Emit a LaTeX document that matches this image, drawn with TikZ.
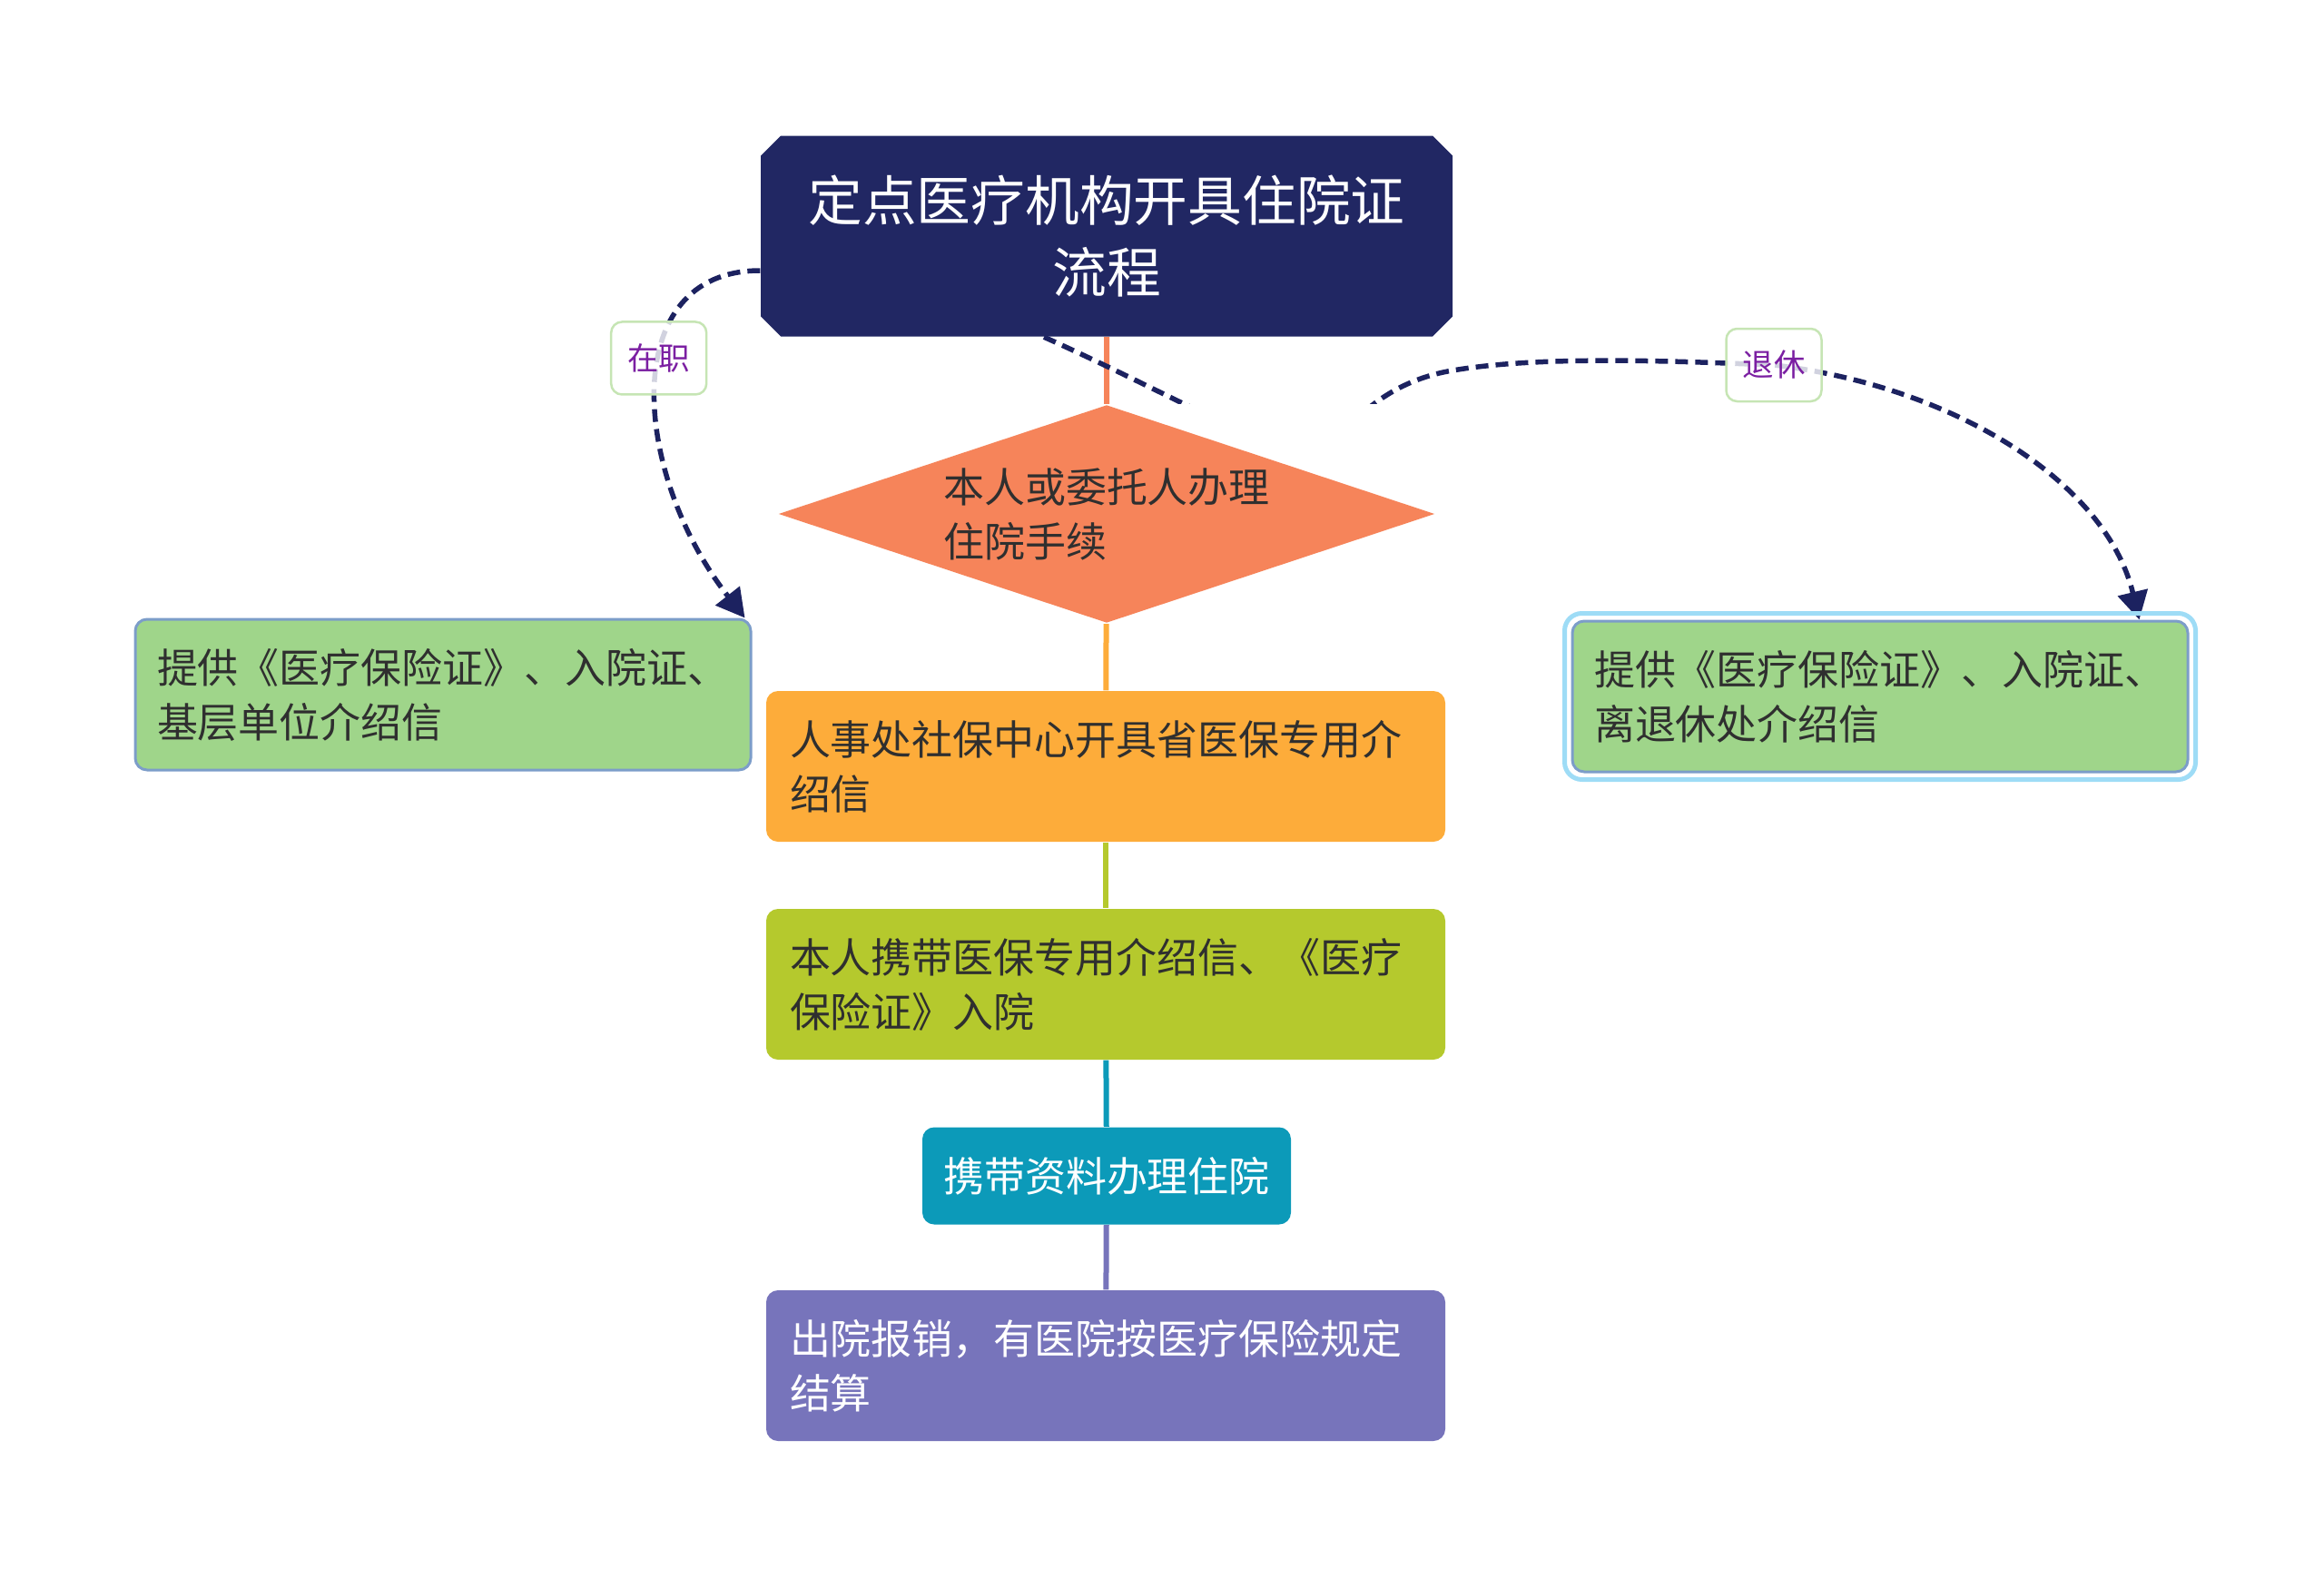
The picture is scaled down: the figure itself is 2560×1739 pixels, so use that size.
\documentclass[tikz,border=0pt]{standalone}
\usepackage{fontspec}
\setmainfont{Noto Sans CJK SC}
\usetikzlibrary{positioning,arrows.meta,calc,shapes.geometric,shapes.misc}

\definecolor{navy}{HTML}{212763}
\definecolor{coral}{HTML}{F6845A}
\definecolor{amber}{HTML}{FDAC3A}
\definecolor{lime}{HTML}{B5C92D}
\definecolor{teal}{HTML}{0C9AB9}
\definecolor{lilac}{HTML}{7774BB}
\definecolor{leaf}{HTML}{9FD58A}
\definecolor{leafline}{HTML}{7C9DC9}
\definecolor{sel}{HTML}{9EDCF6}
\definecolor{rope}{HTML}{1C2260}
\definecolor{tagline}{HTML}{C6E5B4}
\definecolor{tagtext}{HTML}{7B1FA2}
\definecolor{ink}{HTML}{2F2F2F}

\pgfdeclarelayer{bg}
\pgfdeclarelayer{mask}
\pgfsetlayers{bg,mask,main}

\begin{document}
\begin{tikzpicture}[
    x=0.1mm, y=0.1mm,
    every node/.style={inner sep=0pt},
    >=Triangle,
    box/.style={rectangle, rounded corners=1.3mm, align=left,
        text width=69.6mm, inner xsep=2.6mm, minimum height=16.6mm,
        font=\fontsize{12.8}{17.1}\selectfont, text=ink},
    side/.style={box, fill=leaf, draw=leafline, line width=0.3mm,
        text width=63mm, inner xsep=2.4mm},
    link/.style={line width=0.6mm},
    rel/.style={draw=rope, line width=0.55mm,
        dash pattern=on 1.4mm off 0.8mm,
        -{Triangle[length=3.1mm,width=3.3mm]}},
    tag/.style={solid, draw=tagline, line width=0.25mm, fill=white,
        fill opacity=0.8, draw opacity=1, text opacity=1, text=tagtext,
        rounded corners=1.2mm, minimum width=10.5mm, minimum height=8mm,
        font=\fontsize{9.8}{11}\selectfont}
]
\useasboundingbox (0,0) rectangle (2560,-1739);

% Tema central
\node[chamfered rectangle, chamfered rectangle xsep=1.1mm,
    chamfered rectangle ysep=1.1mm, fill=navy, text=white, align=center,
    minimum width=76.2mm, minimum height=22.1mm,
    font=\fontsize{17}{22.2}\selectfont] (T) at (1219,-260)
    {定点医疗机构开具住院证\\流程};

% Columna central
\node[diamond, aspect=3, fill=coral, text=ink, align=left,
    minimum width=72.3mm, minimum height=24mm,
    font=\fontsize{12.8}{17.1}\selectfont] (D) at (1219,-566)
    {本人或委托人办理\\住院手续};
\node[box, fill=amber] (B1) at (1218,-844)
    {人事处社保中心开具省医保专用介\\绍信};
\node[box, fill=lime] (B2) at (1218,-1084)
    {本人携带医保专用介绍信、《医疗\\保险证》入院};
\node[box, fill=teal, text=white, text width=, align=center,
    minimum width=40.6mm, minimum height=10.7mm, inner xsep=0pt] (B3)
    at (1219,-1295) {携带资料办理住院};
\node[box, fill=lilac, text=white] (B4) at (1218,-1504)
    {出院报销，有医院按医疗保险规定\\结算};

% Ramas laterales
\node[side] (L) at (488,-765)
    {提供《医疗保险证》、入院证、\\基层单位介绍信};
\node[side] (R) at (2071,-767)
    {提供《医疗保险证》、入院证、\\离退休处介绍信};
\draw[sel, line width=0.5mm, rounded corners=1.9mm]
    ($(R.north west)+(-7,7)$) rectangle ($(R.south east)+(7,-7)$);

% Conectores
\begin{pgfonlayer}{bg}
\draw[link, coral] (T) -- (D);
\draw[link, amber] (D) -- (B1);
\draw[link, lime] (B1) -- (B2);
\draw[link, teal] (B2) -- (B3);
\draw[link, lilac] (B3) -- (B4);

% Relaciones
\draw[rel] ($(T.west)+(0,-38)$)
    .. controls (680,-298) and (695,-520) ..
    node[tag, pos=0.42] {在职} ($(L.north east)+(-8,0)$);
\draw[rel] ($(T.south)+(-69,0)$)
    .. controls (1290,-434) and (1390,-495) .. (1440,-495)
    .. controls (1480,-495) and (1500,-425) .. (1600,-408)
    .. controls (1700,-391) and (1850,-398) .. (1954,-402)
    node[tag] {退休}
    .. controls (2150,-425) and (2320,-530) .. ($(R.north east)+(-55,0)$);
\end{pgfonlayer}

\begin{pgfonlayer}{mask}
\fill[white] (D.west |- D.north) rectangle (D.east |- D.south);
\end{pgfonlayer}

\end{tikzpicture}
\end{document}
